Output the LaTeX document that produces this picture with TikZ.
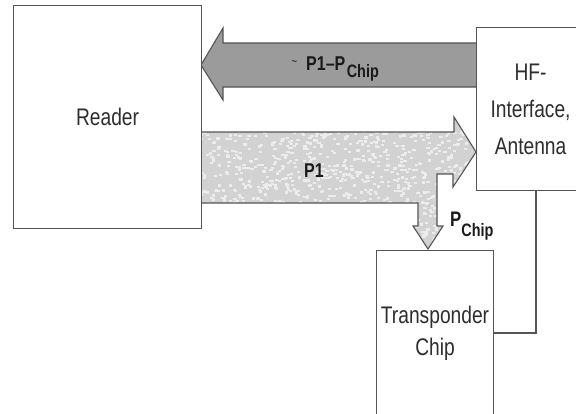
\documentclass[tikz,border=0pt]{standalone}
\usepackage{fontspec}
\setmainfont{Liberation Sans}[FakeStretch=0.8]
\definecolor{linec}{HTML}{555555}
\definecolor{darkfill}{HTML}{9B9B9B}
\definecolor{lightfill}{HTML}{D2D2D2}
\definecolor{speck}{HTML}{ECECEC}
\definecolor{txt}{HTML}{2E2E2E}
\definecolor{txtb}{HTML}{1A1A1A}
\begin{document}
\begin{tikzpicture}[x=1pt,y=-1pt,
  box/.style={draw=linec, line width=1.1pt, fill=white, text=txt, align=center, inner sep=0pt, anchor=north west},
  blbl/.style={text=txtb, font=\bfseries\fontsize{20}{20}\selectfont, inner sep=0pt, anchor=base west},
  wire/.style={draw=linec, line width=1.1pt},
  blockarrow/.style={draw=linec, line width=1.1pt, line join=miter}]
\clip (0,0) rectangle (576,413);
\fill[white] (0,0) rectangle (576,413);
% dark arrow back to reader
\filldraw[blockarrow, fill=darkfill] (476,43) -- (223,43) -- (223,28) -- (201,65) -- (223,100) -- (223,87) -- (476,87);
% P1 arrow with stippled texture
\def\pone{(201,132) -- (454,132) -- (454,117) -- (476,152) -- (453,187) -- (453,174) -- (437,174) -- (437,226) -- (443,226) -- (428,249) -- (413,226) -- (418,226) -- (418,203) -- (201,203) -- cycle}
\begin{scope}
  \clip \pone;
  \fill[lightfill] (195,110) rectangle (480,255);
  \pgfmathsetseed{7}
  \foreach \i in {1,...,1300}{
    \pgfmathsetmacro\rx{195+285*rnd}
    \pgfmathsetmacro\ry{110+145*rnd}
    \fill[speck] (\rx,\ry) rectangle ++(3.2,2.2);
  }
\end{scope}
\draw[blockarrow] \pone;
% boxes
\node[box, minimum width=188pt, minimum height=223pt, font=\fontsize{24}{24}\selectfont] (reader) at (13,5) {Reader};
\node[box, minimum width=108pt, minimum height=163pt, font=\fontsize{24}{37}\selectfont] (hf) at (476,27) {HF-\\Interface,\\Antenna};
\node[box, minimum width=117pt, minimum height=165pt, font=\fontsize{24}{32}\selectfont] (chip) at (376,250) {Transponder\\Chip};
% connector
\coordinate (bend) at (536,333);
\draw[wire] (bend |- hf.south) -- (bend) -- (bend -| chip.east);
% labels
\node[blbl] (l1) at (306,70) {\llap{\raisebox{5pt}{\fontsize{12}{12}\selectfont\mdseries\textasciitilde}\hspace{9pt}}P1–P\hspace{1.5pt}\raisebox{-7pt}{\fontsize{18}{18}\selectfont Chip}};
\node[blbl] (l2) at (304,177) {P1};
\node[blbl, font=\bfseries\fontsize{21}{21}\selectfont] (l3) at (450,226) {P\raisebox{-10pt}{\fontsize{18}{18}\selectfont Chip}};
\end{tikzpicture}
\end{document}
